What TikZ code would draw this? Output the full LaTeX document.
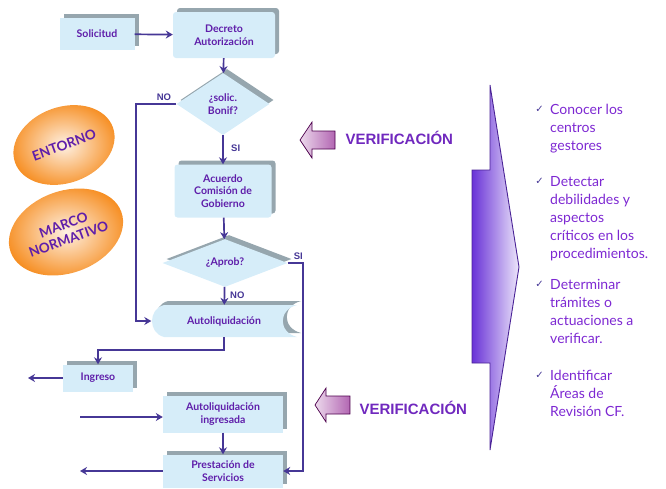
\documentclass[tikz,border=0pt]{standalone}
\usepackage{fontspec}
\setmainfont{Lato}
\newfontfamily\verifont{Liberation Sans}
\newfontfamily\symfont{DejaVu Sans}
\usetikzlibrary{positioning,arrows.meta,shapes.geometric,shadows}

\definecolor{boxfill}{RGB}{214,237,249}
\definecolor{boxshade}{RGB}{150,166,174}
\definecolor{flowline}{RGB}{70,55,150}
\definecolor{flowtext}{RGB}{95,30,170}
\definecolor{listtext}{RGB}{125,40,210}
\definecolor{ovalorange}{RGB}{246,140,30}
\definecolor{bigpurple}{RGB}{105,50,215}
\definecolor{verifpurple}{RGB}{112,40,190}

\begin{document}
\begin{tikzpicture}[
        x=1pt, y=-1pt,
        every node/.style={font=\small},
        boxlabel/.style={text=flowtext, font=\bfseries\fontsize{10.5}{12.5}\selectfont, align=center, inner sep=0pt},
        box/.style={boxlabel, fill=boxfill, general shadow={fill=boxshade, shadow xshift=4pt, shadow yshift=4pt}},
        decision/.style={box, diamond},
        link/.style={draw=flowline, line width=1.7pt, -{Stealth[length=7pt, width=8pt]}},
        answer/.style={font=\verifont\bfseries\fontsize{9.5}{9.5}\selectfont, text=flowline, inner sep=1pt},
        oval/.style={ellipse, rotate=20, inner color=ovalorange!12, outer color=ovalorange, text=flowtext,
            font=\bfseries\fontsize{13.5}{15}\selectfont, align=center, inner sep=0pt},
        verifarrow/.style={left color=violet!15, right color=violet!60, draw=violet!60!black, line width=0.7pt},
        veriftext/.style={anchor=west, text=verifpurple, font=\verifont\bfseries\fontsize{15}{15}\selectfont},
        listitem/.style={anchor=north west, align=left, text=listtext, font=\fontsize{14}{18}\selectfont, inner sep=0pt},
        chk/.style={anchor=north east, text=flowline, font=\symfont\fontsize{10}{10}\selectfont, inner sep=0pt}
    ]
    \useasboundingbox (0,0) rectangle (666,488);

    % flow boxes
    \node[box, minimum width=75pt, minimum height=32pt] (solicitud) at (97,34) {Solicitud};
    \node[box, rounded corners=3pt, minimum width=102pt, minimum height=46pt] (decreto) at (224,35) {Decreto\\Autorización};
    \node[decision, minimum width=93pt, minimum height=62pt] (bonif) at (223,104) {¿solic.\\Bonif?};
    \node[box, rounded corners=3pt, minimum width=97pt, minimum height=53pt] (acuerdo) at (223,191) {Acuerdo\\Comisión de\\Gobierno};
    \node[decision, minimum width=125pt, minimum height=47pt] (aprob) at (225,263) {¿Aprob?};

    % stored data shape
    \fill[boxshade, xshift=4pt, yshift=4pt] (164,305) -- (297,305) .. controls (278,310) and (278,332) .. (297,337)
        -- (164,337) .. controls (148,333) and (148,309) .. (164,305) -- cycle;
    \fill[boxfill] (164,305) -- (297,305) .. controls (278,310) and (278,332) .. (297,337)
        -- (164,337) .. controls (148,333) and (148,309) .. (164,305) -- cycle;
    \node[boxlabel, minimum width=145pt, minimum height=32pt] (autoliq) at (224,321) {Autoliquidación};

    \node[box, minimum width=70pt, minimum height=27pt] (ingreso) at (98,378) {Ingreso};
    \node[box, minimum width=120pt, minimum height=37pt] (autoingr) at (223,414) {Autoliquidación\\ingresada};
    \node[box, minimum width=120pt, minimum height=33pt] (prestacion) at (223,471) {Prestación de\\Servicios};

    \coordinate (ingresoOut) at (28,378);
    \coordinate (pagoIn) at (80,417);
    \coordinate (servOut) at (80,471);

    % connectors
    \draw[link] (solicitud) -- (decreto);
    \draw[link] (decreto) -- (bonif);
    \draw[link] (bonif.west) -- ++(-40,0) |- (autoliq.west);
    \node[answer, anchor=south east] (noBonif) at ([xshift=-4pt, yshift=2pt]bonif.west) {NO};
    \draw[link] (bonif) -- (acuerdo);
    \node[answer, anchor=west] (siBonif) at (230,148) {SI};
    \draw[link] (acuerdo) -- (aprob);
    \draw[link] (aprob.east) -- ++(15,0) |- (prestacion.east);
    \node[answer, anchor=south west] (siAprob) at ([xshift=5pt, yshift=2pt]aprob.east) {SI};
    \draw[link] (aprob) -- (autoliq);
    \node[answer, anchor=west] (noAprob) at (229,295) {NO};
    \draw[link] (autoliq.south) -- ++(0,13) -| (ingreso.north);
    \draw[link] (ingreso) -- (ingresoOut);
    \draw[link] (pagoIn) -- (pagoIn -| autoingr.west);
    \draw[link] (autoingr) -- (prestacion);
    \draw[link] (prestacion.west) -- (servOut);

    % context ovals
    \node[oval, minimum width=104pt, minimum height=76pt] (entorno) at (64,145) {ENTORNO};
    \node[oval, minimum width=104pt, minimum height=82pt] (marco) at (66,232) {MARCO\\NORMATIVO};

    % verification arrows
    \draw[verifarrow] (300,140) -- (312,122) -- (312,131) -- (335,131) -- (335,149) -- (312,149) -- (312,158) -- cycle;
    \node[veriftext] (verifA) at (342,138) {VERIFICACIÓN};
    \draw[verifarrow] (315,405) -- (326,388) -- (326,396) -- (350,396) -- (350,414) -- (326,414) -- (326,422) -- cycle;
    \node[veriftext] (verifB) at (356,408) {VERIFICACIÓN};

    % big arrow
    \draw[left color=bigpurple, right color=bigpurple!12, draw=bigpurple!70!black, line width=0.9pt]
        (472,170) -- (490,170) -- (490,85) -- (519,267) -- (490,450) -- (490,363) -- (472,363) -- cycle;

    % goals
    \node[listitem] (goalA) at (550,104) {Conocer los\\centros\\gestores};
    \node[listitem] (goalB) at (550,176) {Detectar\\debilidades y\\aspectos\\críticos en los\\procedimientos.};
    \node[listitem] (goalC) at (550,279) {Determinar\\trámites o\\actuaciones a\\verificar.};
    \node[listitem] (goalD) at (550,370) {Identificar\\Áreas de\\Revisión CF.};
    \foreach \g in {goalA,goalB,goalC,goalD}
        \node[chk] (chk\g) at ([xshift=-6pt, yshift=-2pt]\g.north west) {✓};
\end{tikzpicture}
\end{document}
